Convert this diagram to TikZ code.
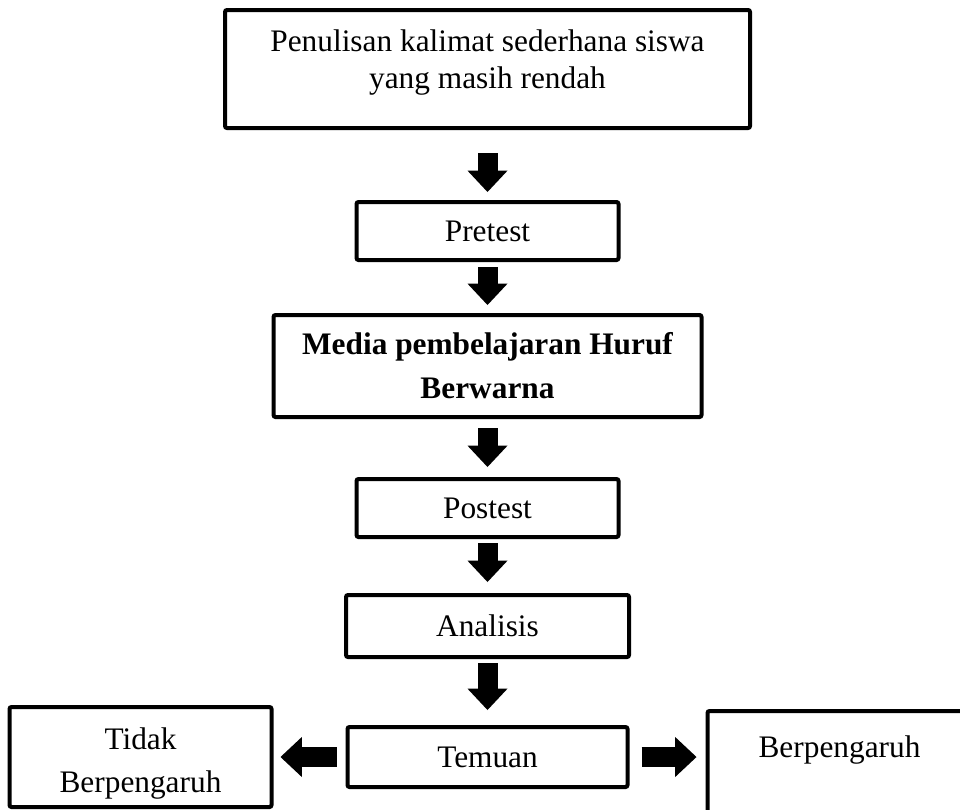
\documentclass[tikz,border=0pt]{standalone}
\usepackage{fontspec}
\setmainfont{Liberation Serif}
\usetikzlibrary{positioning, arrows.meta}

\begin{document}
\begin{tikzpicture}[
    x=0.75pt, y=-0.75pt,
    box/.style={
        draw=black,
        line width=3pt,
        rounded corners=1.5pt,
        outer sep=0pt,
        inner sep=0pt,
        align=center,
        font=\fontsize{23.5}{27}\selectfont,
    },
    blockarrow/.style={
        line width=15pt,
        -{Triangle[length=16pt, width=30pt, line width=0pt]},
    },
]

\useasboundingbox (0,0) rectangle (960,810);
\clip (0,0) rectangle (960,810);

% --- main chain ---
\node[box, minimum width=393.75pt, minimum height=88.5pt, font=\fontsize{23.5}{27.5}\selectfont,
    text height=46pt, text depth=17.5pt] (masalah) at (487.5,69)
    {Penulisan kalimat sederhana siswa\\yang masih rendah};

\node[box, minimum width=196.5pt, minimum height=43.5pt, below=55.5pt of masalah] (pretest) {Pretest};

\node[box, minimum width=321pt, minimum height=76.5pt, below=41.25pt of pretest,
    font=\fontsize{23.5}{33}\selectfont\bfseries] (media) {Media pembelajaran Huruf\\Berwarna};

\node[box, minimum width=196.5pt, minimum height=43.5pt, below=46.5pt of media] (postest) {Postest};

\node[box, minimum width=212.25pt, minimum height=46.5pt, below=43.5pt of postest] (analisis) {Analisis};

\node[box, minimum width=210pt, minimum height=45pt, below=52.5pt of analisis] (temuan) {Temuan};

% --- outcomes ---
\node[box, minimum width=196.5pt, minimum height=75pt, left=57pt of temuan,
    font=\fontsize{23.5}{32}\selectfont, text height=57pt, text depth=4.5pt] (tidak) {Tidak\\Berpengaruh};

\node[box, minimum width=198pt, text height=35pt, text depth=60pt,
    right=60pt of temuan.east, anchor=north west, yshift=34.5pt] (pengaruh) {Berpengaruh};

% --- block arrows ---
\draw[blockarrow, shorten <=18.75pt, shorten >=7.5pt] (masalah) -- (pretest);
\draw[blockarrow, shorten <=5.25pt, shorten >=7.5pt] (pretest) -- (media);
\draw[blockarrow, shorten <=8.25pt, shorten >=9pt] (media) -- (postest);
\draw[blockarrow, shorten <=4.5pt, shorten >=9.75pt] (postest) -- (analisis);
\draw[blockarrow, shorten <=4.5pt, shorten >=12.75pt] (analisis) -- (temuan);
\draw[blockarrow, shorten <=8.25pt, shorten >=6.75pt] (temuan) -- (tidak);
\draw[blockarrow, shorten <=10.5pt, shorten >=8.25pt] (temuan) -- (temuan.east -| pengaruh.west);

\end{tikzpicture}
\end{document}
